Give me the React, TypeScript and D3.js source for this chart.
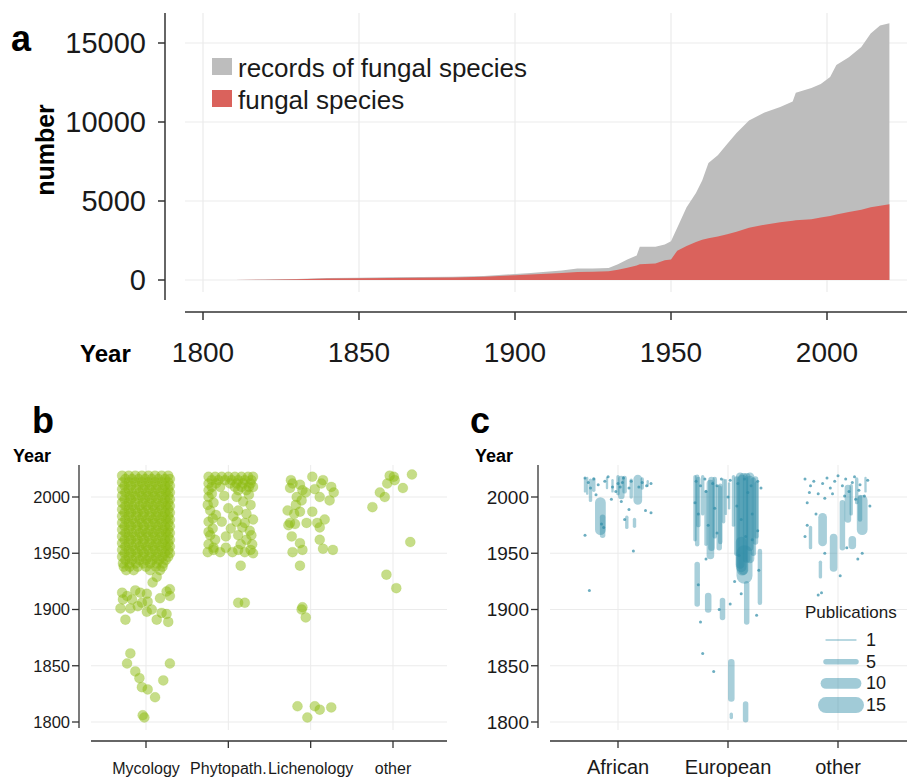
import React, { useEffect, useRef } from 'react';
import * as d3 from 'd3';

// ---- panel a: cumulative numbers ----
const yearsA = [1810, 1820, 1830, 1840, 1850, 1860, 1870, 1880, 1890, 1900, 1905, 1910, 1915, 1920, 1925, 1930, 1933, 1936, 1939, 1940, 1945, 1948, 1950, 1952, 1955, 1958, 1960, 1962, 1965, 1968, 1971, 1975, 1980, 1985, 1989, 1990, 1995, 1998, 2001, 2003, 2007, 2011, 2014, 2017, 2020];
const recordsA = [0, 30, 60, 120, 150, 170, 190, 210, 250, 380, 450, 520, 600, 720, 730, 760, 1000, 1300, 1550, 2100, 2100, 2250, 2450, 3300, 4600, 5500, 6300, 7400, 7900, 8600, 9300, 10100, 10600, 10950, 11300, 11850, 12150, 12400, 12850, 13600, 14100, 14750, 15600, 16100, 16250];
const speciesA = [0, 20, 50, 90, 110, 125, 140, 160, 200, 300, 350, 400, 450, 500, 520, 560, 650, 780, 920, 1000, 1050, 1250, 1300, 1850, 2150, 2400, 2550, 2650, 2750, 2900, 3050, 3300, 3500, 3650, 3750, 3780, 3850, 3950, 4050, 4150, 4300, 4450, 4600, 4700, 4800];
const yTicksA = [0, 5000, 10000, 15000];
const xTicksA = [1800, 1850, 1900, 1950, 2000];
const legendA = ['records of fungal species', 'fungal species'];

// ---- panels b/c ----
const yearTicks = [1800, 1850, 1900, 1950, 2000];
const fieldCats = ['Mycology', 'Phytopath.', 'Lichenology', 'other'];
const originCats = ['African', 'European', 'other'];

// rows of jittered points: [year, jitter offsets]
const mycologyRows: [number, number[]][] = [
  [2019, [-0.29, -0.21, -0.13, -0.05, 0.03, 0.11, 0.19, 0.27]],
  [2016, [-0.25, -0.17, -0.09, -0.01, 0.07, 0.15, 0.23, 0.29]],
  [2013, [-0.29, -0.21, -0.13, -0.05, 0.03, 0.11, 0.19, 0.27]],
  [2010, [-0.26, -0.18, -0.09, -0.01, 0.07, 0.15, 0.23, 0.29]],
  [2007, [-0.29, -0.21, -0.12, -0.04, 0.04, 0.12, 0.2, 0.27]],
  [2004, [-0.25, -0.17, -0.08, 0.0, 0.08, 0.16, 0.24, 0.29]],
  [2001, [-0.29, -0.2, -0.13, -0.05, 0.03, 0.11, 0.19, 0.27]],
  [1998, [-0.26, -0.18, -0.09, -0.01, 0.07, 0.15, 0.23, 0.29]],
  [1995, [-0.29, -0.21, -0.13, -0.04, 0.04, 0.12, 0.2, 0.27]],
  [1992, [-0.25, -0.17, -0.08, 0.0, 0.08, 0.16, 0.24, 0.29]],
  [1989, [-0.29, -0.21, -0.13, -0.05, 0.03, 0.11, 0.19, 0.27]],
  [1986, [-0.26, -0.18, -0.1, -0.02, 0.07, 0.15, 0.23, 0.29]],
  [1983, [-0.29, -0.21, -0.12, -0.04, 0.04, 0.12, 0.2, 0.27]],
  [1980, [-0.25, -0.17, -0.08, 0.0, 0.08, 0.16, 0.24, 0.29]],
  [1977, [-0.29, -0.21, -0.13, -0.05, 0.03, 0.11, 0.19, 0.27]],
  [1974, [-0.26, -0.18, -0.1, -0.02, 0.07, 0.15, 0.23, 0.29]],
  [1971, [-0.29, -0.21, -0.12, -0.04, 0.04, 0.12, 0.2, 0.27]],
  [1968, [-0.25, -0.17, -0.08, 0.0, 0.08, 0.16, 0.24, 0.29]],
  [1965, [-0.29, -0.21, -0.13, -0.05, 0.03, 0.11, 0.19, 0.27]],
  [1962, [-0.26, -0.18, -0.1, -0.02, 0.07, 0.15, 0.23, 0.29]],
  [1959, [-0.29, -0.21, -0.12, -0.04, 0.04, 0.12, 0.2, 0.27]],
  [1956, [-0.25, -0.17, -0.08, 0.0, 0.08, 0.16, 0.24, 0.29]],
  [1953, [-0.29, -0.21, -0.13, -0.05, 0.03, 0.11, 0.19, 0.27]],
  [1950, [-0.26, -0.18, -0.1, -0.02, 0.07, 0.15, 0.23, 0.29]],
  [1947, [-0.29, -0.21, -0.12, -0.04, 0.04, 0.12, 0.2, 0.27]],
  [1944, [-0.25, -0.17, -0.08, 0.0, 0.08, 0.16, 0.24]],
  [1941, [-0.28, -0.2, -0.12, -0.03, 0.05, 0.13, 0.21]],
  [1938, [-0.27, -0.2, -0.1, 0.0, 0.12, 0.2]],
  [1935, [-0.24, -0.15, 0.05, 0.17]],
];
const mycologyPts: [number, number][] = [
  [0.13, 1929], [0.08, 1924], [-0.29, 1915], [-0.13, 1917], [-0.07, 1915], [0.01, 1914], [0.25, 1916], [0.29, 1918],
  [-0.28, 1909], [-0.17, 1909], [-0.05, 1906], [0.02, 1907], [-0.31, 1901], [-0.19, 1901], [-0.1, 1903], [0.01, 1898],
  [0.19, 1897], [0.25, 1896], [0.13, 1891], [-0.25, 1891], [0.27, 1889], [-0.23, 1912], [0.17, 1910], [0.29, 1912], [0.07, 1900],
  [-0.19, 1861], [-0.23, 1852], [0.29, 1852], [-0.13, 1845], [-0.08, 1839], [0.21, 1837], [-0.05, 1831], [0.02, 1829],
  [0.11, 1822], [-0.04, 1806], [-0.02, 1804],
];
const phytoRows: [number, number[]][] = [
  [2018, [-0.24, -0.16, -0.08, 0.0, 0.08, 0.16, 0.24, 0.3]],
  [2015, [-0.2, -0.12, -0.04, 0.04, 0.12, 0.2, 0.28]],
  [2012, [-0.24, -0.15, 0.02, 0.1, 0.18, 0.27]],
  [2009, [-0.2, -0.1, 0.08, 0.16, 0.25, 0.3]],
  [2006, [-0.24, 0.12, 0.22]],
];
const phytoPts: [number, number][] = [
  [-0.24, 2000], [-0.18, 1995], [-0.22, 1988], [-0.15, 1984], [-0.24, 1978], [-0.19, 1972], [-0.22, 1966], [-0.16, 1962], [-0.24, 1958],
  [-0.2, 2003], [-0.25, 1993], [-0.19, 1981], [-0.24, 1969], [-0.18, 1955],
  [-0.05, 2001], [0.0, 1990], [-0.08, 1978], [0.03, 1972], [-0.03, 1965],
  [0.1, 2000], [0.18, 1996], [0.27, 1993], [0.12, 1988], [0.22, 1985], [0.3, 1980], [0.1, 1978], [0.17, 1973], [0.26, 1970],
  [0.12, 1966], [0.22, 1962], [0.29, 1958], [0.15, 1958], [0.25, 2002], [0.06, 1983], [0.2, 1977], [0.28, 1966],
  [-0.25, 1951], [-0.18, 1953], [-0.1, 1951], [-0.03, 1955], [0.05, 1951], [0.12, 1953], [0.2, 1951], [0.27, 1953], [0.3, 1950],
  [0.15, 1939], [0.12, 1906], [0.2, 1906],
];
const lichenPts: [number, number][] = [
  [-0.22, 2012], [-0.13, 2011], [-0.25, 2008], [-0.1, 2006], [-0.17, 2000], [-0.11, 1997], [-0.06, 2004], [0.02, 2018],
  [0.15, 2015], [0.13, 2012], [0.25, 2009], [0.11, 2000], [0.23, 1997], [-0.28, 1988], [-0.13, 1987], [0.02, 1987],
  [-0.25, 1977], [-0.19, 1976], [-0.05, 1977], [0.08, 1977], [0.17, 1980], [0.11, 1973], [-0.23, 1965], [-0.13, 1959],
  [0.11, 1962], [-0.22, 1951], [-0.1, 1953], [0.15, 1954], [0.27, 1953], [-0.13, 1939], [-0.1, 1902], [-0.06, 1893],
  [-0.11, 1900], [-0.16, 1814], [0.05, 1814], [0.11, 1811], [0.25, 1813], [-0.04, 1804],
  [-0.24, 2015], [-0.2, 1985], [-0.27, 1975], [-0.18, 1993], [0.05, 2007], [0.28, 2004],
];
const otherFieldPts: [number, number][] = [
  [-0.25, 1991], [-0.16, 2004], [-0.1, 2000], [-0.07, 2012], [-0.04, 2019], [0.01, 2018], [0.02, 2015],
  [0.12, 2008], [0.23, 2020], [0.21, 1960], [-0.08, 1931], [0.04, 1919],
];

// panel c: [origin index, jitter, from year, to year, publications]
const originSegs: [number, number, number, number, number][] = [
  // African
  [0, -0.16, 1971, 1995, 10], [0, 0.03, 2001, 2016, 6], [0, 0.18, 1997, 2016, 8], [0, -0.25, 1997, 2015, 3],
  [0, -0.3, 2005, 2016, 2], [0, 0.08, 1973, 1982, 3], [0, 0.15, 1974, 1980, 3], [0, -0.14, 1966, 1982, 5], [0, -0.05, 2005, 2015, 2],
  [0, -0.28, 2003, 2017, 2], [0, -0.22, 2006, 2016, 3], [0, -0.1, 2008, 2017, 2], [0, 0.0, 2003, 2018, 3],
  [0, 0.06, 2005, 2017, 4], [0, 0.12, 2000, 2015, 3], [0, 0.22, 2008, 2016, 3], [0, 0.27, 2010, 2014, 2],
  // European, upper block
  [1, -0.3, 1962, 2018, 3], [1, -0.27, 1975, 2016, 4], [1, -0.23, 1985, 2018, 3], [1, -0.2, 1958, 2005, 3],
  [1, -0.16, 1948, 2012, 7], [1, -0.12, 1965, 2016, 4], [1, -0.08, 1955, 2008, 5], [1, -0.04, 1978, 2015, 3],
  [1, -0.28, 1958, 2018, 4], [1, -0.15, 1955, 2015, 6], [1, -0.07, 1960, 2010, 4], [1, -0.02, 1985, 2015, 2],
  [1, 0.01, 1990, 2012, 2], [1, 0.05, 1975, 2018, 3], [1, 0.08, 1950, 2016, 5], [1, 0.11, 1940, 2018, 8],
  [1, 0.14, 1935, 2017, 9], [1, 0.17, 1945, 2018, 7], [1, 0.2, 1955, 2016, 6], [1, 0.23, 1950, 2015, 5],
  [1, 0.26, 1965, 2012, 4], [1, 0.13, 1935, 2015, 10], [1, 0.2, 1945, 2018, 8], [1, 0.25, 1960, 2016, 5],
  [1, 0.15, 1930, 1950, 15], [1, 0.12, 1938, 1960, 10], [1, 0.29, 1906, 1952, 4],
  // European, older records
  [1, -0.28, 1905, 1940, 5], [1, -0.18, 1900, 1912, 6], [1, -0.05, 1893, 1908, 5], [1, 0.17, 1889, 1923, 5],
  [1, 0.03, 1821, 1853, 6], [1, 0.16, 1802, 1816, 5], [1, 0.03, 1804, 1807, 3],
  // other
  [2, -0.14, 1960, 1982, 8], [2, -0.04, 1937, 1964, 7], [2, 0.04, 1955, 1995, 5], [2, 0.09, 1980, 2008, 6],
  [2, 0.22, 1971, 1997, 10], [2, 0.17, 1995, 2016, 3], [2, -0.25, 1955, 1973, 3], [2, -0.16, 1929, 1942, 3],
  [2, 0.13, 1957, 1962, 7], [2, 0.25, 2005, 2017, 2], [2, 0.12, 1985, 2010, 3], [2, 0.2, 1980, 2000, 4],
];
// single records: [origin index, jitter, year]
const originPts: [number, number, number][] = [
  [0, -0.3, 2017], [0, -0.27, 2013], [0, -0.22, 2016], [0, -0.18, 2011], [0, -0.12, 2014], [0, -0.09, 2018], [0, -0.05, 2009],
  [0, -0.02, 2005], [0, 0.0, 2012], [0, 0.05, 2017], [0, 0.1, 2008], [0, 0.12, 2014], [0, 0.22, 2013], [0, 0.26, 2010],
  [0, 0.3, 2012], [0, -0.3, 1966], [0, -0.26, 1917], [0, 0.14, 1952], [0, 0.25, 1988], [0, 0.3, 1986], [0, 0.1, 1989],
  [0, -0.2, 2002], [0, 0.06, 1980], [0, -0.25, 2008], [0, 0.02, 2009], [0, 0.04, 2013], [0, 0.19, 2009], [0, -0.15, 1976],
  [0, -0.13, 1973], [0, 0.03, 1996], [0, -0.06, 1998],
  [1, -0.3, 1995], [1, -0.27, 1985], [1, -0.2, 2005], [1, -0.12, 1990], [1, -0.1, 2010], [1, 0.0, 2000], [1, 0.08, 1992],
  [1, 0.12, 1980], [1, 0.18, 2004], [1, 0.22, 1985], [1, 0.27, 1970], [1, -0.2, 1945], [1, -0.27, 1922], [1, -0.25, 1889],
  [1, -0.23, 1861], [1, -0.13, 1845], [1, 0.02, 1905], [1, 0.12, 1914], [1, 0.26, 1895], [1, 0.28, 1935], [1, -0.08, 1900],
  [1, 0.06, 1925], [1, -0.29, 2014], [1, -0.25, 2010], [1, -0.21, 2016], [1, -0.14, 2012], [1, -0.06, 2016], [1, 0.02, 2015],
  [1, 0.09, 2012], [1, 0.15, 2016], [1, 0.21, 2010], [1, 0.27, 2014], [1, 0.3, 2008], [1, -0.18, 1975], [1, -0.1, 1968],
  [1, 0.16, 1965], [1, 0.22, 1962], [1, 0.1, 1948],
  [2, -0.3, 2016], [2, -0.25, 2010], [2, -0.22, 2014], [2, -0.18, 2003], [2, -0.14, 2012], [2, -0.1, 2017], [2, -0.07, 2008],
  [2, -0.03, 2014], [2, 0.0, 2019], [2, 0.04, 2010], [2, 0.07, 2016], [2, 0.1, 2005], [2, 0.13, 2013], [2, 0.16, 1998],
  [2, 0.2, 2011], [2, 0.24, 2001], [2, 0.27, 2015], [2, -0.28, 1995], [2, -0.2, 1985], [2, -0.12, 1950], [2, -0.3, 1965],
  [2, 0.08, 1955], [2, 0.18, 1945], [2, 0.22, 1950], [2, -0.15, 1915], [2, -0.18, 1913], [2, 0.02, 1930], [2, -0.26, 2004],
  [2, -0.12, 1999], [2, -0.05, 2003], [2, 0.06, 2001], [2, 0.15, 2018], [2, 0.19, 2006], [2, 0.29, 1992], [2, -0.28, 1975],
];
const pubLegend = [1, 5, 10, 15];

const FONT = 'Liberation Sans, Arial, sans-serif';
const AXIS = '#333';
const GRID = '#ebebeb';
const TEAL = '#2f8ca6';

const App: React.FC = () => {
  const ref = useRef<SVGSVGElement>(null);

  useEffect(() => {
    if (!ref.current) return;
    const svg = d3.select(ref.current);
    svg.selectAll('*').remove();
    svg.style('font-family', FONT);

    // ================= panel a =================
    const xa = d3.scaleLinear().domain([1800, 2000]).range([203, 827]);
    const ya = d3.scaleLinear().domain([0, 15000]).range([280, 43]);
    const a = svg.append('g');

    a.selectAll('.hgrid').data(yTicksA).enter().append('line')
      .attr('x1', 185).attr('x2', 907)
      .attr('y1', (d) => ya(d)).attr('y2', (d) => ya(d))
      .attr('stroke', GRID).attr('stroke-width', 1.2);
    a.selectAll('.vgrid').data(xTicksA).enter().append('line')
      .attr('x1', (d) => xa(d)).attr('x2', (d) => xa(d))
      .attr('y1', 13).attr('y2', 292)
      .attr('stroke', GRID).attr('stroke-width', 1.2);

    const area = (vals: number[]) =>
      d3.area<number>()
        .x((_, i) => xa(yearsA[i]))
        .y0(ya(0))
        .y1((d) => ya(d))(vals);
    a.append('path').attr('d', area(recordsA)).attr('fill', '#bdbdbd');
    a.append('path').attr('d', area(speciesA)).attr('fill', '#da625c');

    // axes
    a.append('line').attr('x1', 165).attr('x2', 165).attr('y1', 13).attr('y2', 300)
      .attr('stroke', AXIS).attr('stroke-width', 1.5);
    a.selectAll('.yt').data(yTicksA).enter().append('line')
      .attr('x1', 158).attr('x2', 165).attr('y1', (d) => ya(d)).attr('y2', (d) => ya(d))
      .attr('stroke', AXIS).attr('stroke-width', 1.5);
    a.selectAll('.yl').data(yTicksA).enter().append('text')
      .attr('x', 146).attr('y', (d) => ya(d) + 10)
      .attr('text-anchor', 'end').attr('font-size', 29).attr('fill', '#1a1a1a')
      .text((d) => d);
    a.append('line').attr('x1', 185).attr('x2', 907).attr('y1', 312).attr('y2', 312)
      .attr('stroke', AXIS).attr('stroke-width', 1.5);
    a.selectAll('.xt').data(xTicksA).enter().append('line')
      .attr('x1', (d) => xa(d)).attr('x2', (d) => xa(d)).attr('y1', 312).attr('y2', 320)
      .attr('stroke', AXIS).attr('stroke-width', 1.5);
    a.selectAll('.xl').data(xTicksA).enter().append('text')
      .attr('x', (d) => xa(d)).attr('y', 362)
      .attr('text-anchor', 'middle').attr('font-size', 28).attr('fill', '#1a1a1a')
      .text((d) => d);
    a.append('text').attr('x', 80).attr('y', 362).attr('font-size', 24).attr('font-weight', 'bold').text('Year');
    a.append('text').attr('transform', 'translate(54,150) rotate(-90)')
      .attr('text-anchor', 'middle').attr('font-size', 25).attr('font-weight', 'bold').text('number');
    a.append('text').attr('x', 11).attr('y', 51).attr('font-size', 36).attr('font-weight', 'bold').text('a');

    // legend
    const legColors = ['#bdbdbd', '#da625c'];
    legendA.forEach((lab, i) => {
      a.append('rect').attr('x', 212).attr('y', 58 + i * 32).attr('width', 20).attr('height', 17).attr('fill', legColors[i]);
      a.append('text').attr('x', 238).attr('y', 77 + i * 32).attr('font-size', 26).attr('fill', '#1a1a1a').text(lab);
    });

    // ================= shared year axis for b and c =================
    const drawFrame = (
      g: d3.Selection<SVGGElement, unknown, null, undefined>,
      axisX: number, left: number, right: number,
      xs: d3.ScalePoint<string>, cats: string[],
      y: d3.ScaleLinear<number, number>, tickSize: number, catSize: number, letter: string, letterX: number
    ) => {
      g.selectAll('.hg').data(yearTicks).enter().append('line')
        .attr('x1', left).attr('x2', right).attr('y1', (d) => y(d)).attr('y2', (d) => y(d))
        .attr('stroke', GRID).attr('stroke-width', 1);
      g.selectAll('.vg').data(cats).enter().append('line')
        .attr('x1', (d) => xs(d)!).attr('x2', (d) => xs(d)!).attr('y1', 465).attr('y2', 730)
        .attr('stroke', GRID).attr('stroke-width', 1);
      g.append('line').attr('x1', axisX).attr('x2', axisX).attr('y1', 465).attr('y2', 728)
        .attr('stroke', AXIS).attr('stroke-width', 1.3);
      g.selectAll('.yt').data(yearTicks).enter().append('line')
        .attr('x1', axisX - 7).attr('x2', axisX).attr('y1', (d) => y(d)).attr('y2', (d) => y(d))
        .attr('stroke', AXIS).attr('stroke-width', 1.3);
      g.selectAll('.yl').data(yearTicks).enter().append('text')
        .attr('x', axisX - 9).attr('y', (d) => y(d) + tickSize * 0.36)
        .attr('text-anchor', 'end').attr('font-size', tickSize).attr('fill', '#1a1a1a').text((d) => d);
      g.append('line').attr('x1', left).attr('x2', right).attr('y1', 741).attr('y2', 741)
        .attr('stroke', AXIS).attr('stroke-width', 1.3);
      g.selectAll('.xt').data(cats).enter().append('line')
        .attr('x1', (d) => xs(d)!).attr('x2', (d) => xs(d)!).attr('y1', 741).attr('y2', 748)
        .attr('stroke', AXIS).attr('stroke-width', 1.3);
      g.selectAll('.xl').data(cats).enter().append('text')
        .attr('x', (d) => xs(d)!).attr('y', 774)
        .attr('text-anchor', 'middle').attr('font-size', catSize).attr('fill', '#1a1a1a').text((d) => d);
      g.append('text').attr('x', letterX).attr('y', 433).attr('font-size', 36).attr('font-weight', 'bold').text(letter);
      g.append('text').attr('x', axisX - 68 + (letter === 'b' ? 2 : 5)).attr('y', 462)
        .attr('font-size', 18).attr('font-weight', 'bold').text('Year');
    };

    const yb = d3.scaleLinear().domain([1800, 2000]).range([722, 497]);

    // ================= panel b =================
    const xb = d3.scalePoint<string>().domain(fieldCats).range([146, 393]);
    const stepB = xb.step();
    const b = svg.append('g');
    drawFrame(b, 79, 91, 447, xb, fieldCats, yb, 16.5, 16, 'b', 32);

    const fieldPts: { c: number; dx: number; yr: number }[] = [];
    mycologyRows.forEach(([yr, dxs]) => dxs.forEach((dx) => fieldPts.push({ c: 0, dx, yr })));
    mycologyPts.forEach(([dx, yr]) => fieldPts.push({ c: 0, dx, yr }));
    phytoRows.forEach(([yr, dxs]) => dxs.forEach((dx) => fieldPts.push({ c: 1, dx, yr })));
    phytoPts.forEach(([dx, yr]) => fieldPts.push({ c: 1, dx, yr }));
    lichenPts.forEach(([dx, yr]) => fieldPts.push({ c: 2, dx, yr }));
    otherFieldPts.forEach(([dx, yr]) => fieldPts.push({ c: 3, dx, yr }));

    b.selectAll('.pt').data(fieldPts).enter().append('circle')
      .attr('cx', (d) => xb(fieldCats[d.c])! + d.dx * stepB)
      .attr('cy', (d) => yb(d.yr))
      .attr('r', 5)
      .attr('fill', '#8dbb12').attr('fill-opacity', 0.5)
      .attr('stroke', '#8dbb12').attr('stroke-opacity', 0.15).attr('stroke-width', 1);

    // ================= panel c =================
    const xc = d3.scalePoint<string>().domain(originCats).range([618, 838]);
    const stepC = xc.step();
    const w = d3.scaleLinear().domain([1, 15]).range([1.3, 16]);
    const c = svg.append('g');
    drawFrame(c, 538, 550, 907, xc, originCats, yb, 19, 20, 'c', 470);

    c.selectAll('.seg').data(originSegs).enter().append('line')
      .attr('x1', (d) => xc(originCats[d[0]])! + d[1] * stepC)
      .attr('x2', (d) => xc(originCats[d[0]])! + d[1] * stepC)
      .attr('y1', (d) => yb(d[2])).attr('y2', (d) => yb(d[3]))
      .attr('stroke', TEAL).attr('stroke-opacity', 0.42)
      .attr('stroke-width', (d) => w(d[4])).attr('stroke-linecap', 'round');
    c.selectAll('.opt').data(originPts).enter().append('circle')
      .attr('cx', (d) => xc(originCats[d[0]])! + d[1] * stepC)
      .attr('cy', (d) => yb(d[2]))
      .attr('r', 1.5).attr('fill', TEAL).attr('fill-opacity', 0.7);

    // size legend
    c.append('text').attr('x', 805).attr('y', 618).attr('font-size', 17).attr('fill', '#1a1a1a').text('Publications');
    pubLegend.forEach((p, i) => {
      const ly = 640 + i * 21.7;
      c.append('line').attr('x1', 826).attr('x2', 856).attr('y1', ly).attr('y2', ly)
        .attr('stroke', TEAL).attr('stroke-opacity', 0.45)
        .attr('stroke-width', w(p)).attr('stroke-linecap', 'round');
      c.append('text').attr('x', 866).attr('y', ly + 6).attr('font-size', 18).attr('fill', '#1a1a1a').text(p);
    });
  }, []);

  return (
    <svg ref={ref} width={907} height={777}
      style={{ position: 'absolute', left: 0, top: 0, background: '#fff' }} />
  );
};

export default App;
